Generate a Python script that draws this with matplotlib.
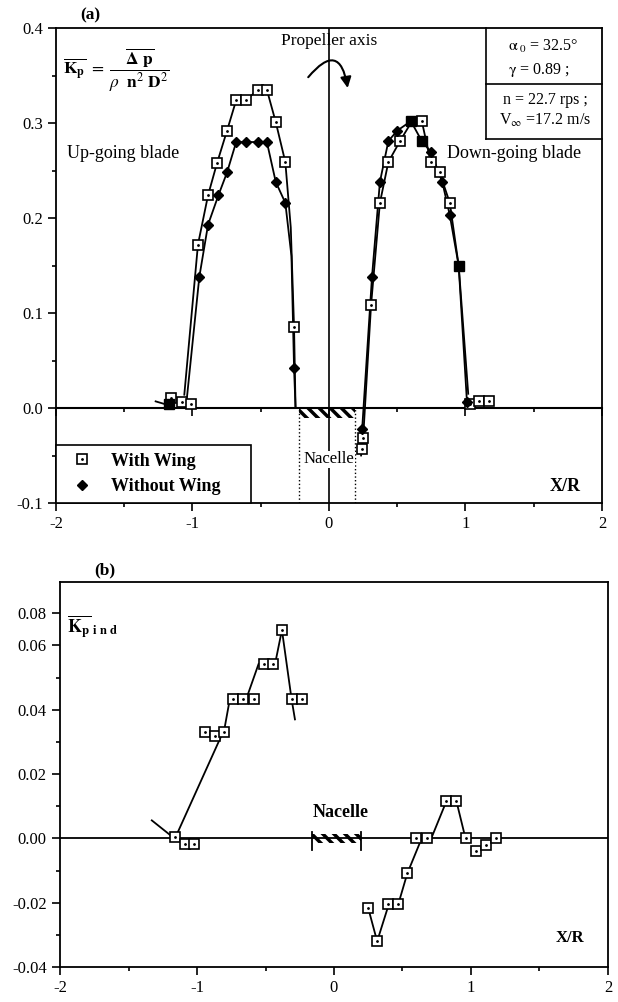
import numpy as np
import matplotlib.pyplot as plt
from matplotlib.lines import Line2D
from matplotlib.patches import Rectangle, FancyArrowPatch
from matplotlib.ticker import MultipleLocator

plt.rcParams['font.family'] = ['Liberation Serif', 'DejaVu Serif']
plt.rcParams['mathtext.fontset'] = 'stix'
plt.rcParams['hatch.linewidth'] = 2.5
plt.rcParams['axes.unicode_minus'] = False

# ---- (a) Kp, points ----
wing_x = [-1.157, -1.08, -1.01, -0.96, -0.886, -0.82, -0.747, -0.68, -0.61, -0.52, -0.455,
          -0.39, -0.32, -0.256, 0.243, 0.25, 0.308, 0.373, 0.435, 0.52, 0.68, 0.745, 0.81,
          0.885, 1.03, 1.10, 1.17]
wing_y = [0.0105, 0.0063, 0.0045, 0.172, 0.224, 0.258, 0.292, 0.324, 0.324, 0.335, 0.335,
          0.301, 0.259, 0.085, -0.043, -0.032, 0.108, 0.216, 0.259, 0.281, 0.302, 0.259, 0.248,
          0.216, 0.004, 0.0074, 0.0074]

nowing_x = [-0.95, -0.886, -0.81, -0.747, -0.68, -0.61, -0.52, -0.455, -0.39, -0.32, -0.256,
            0.243, 0.315, 0.373, 0.435, 0.50, 0.745, 0.83, 0.885, 1.01]
nowing_y = [0.138, 0.193, 0.224, 0.248, 0.28, 0.28, 0.28, 0.28, 0.238, 0.216, 0.042,
            -0.022, 0.138, 0.238, 0.281, 0.292, 0.27, 0.238, 0.203, 0.006]
# without-wing points printed as filled squares
nowing_sq_x = [-1.17, 0.60, 0.68, 0.95]
nowing_sq_y = [0.004, 0.302, 0.281, 0.15]

# faired curves
cw_left_x = [-1.06, -0.96, -0.886, -0.82, -0.747, -0.68, -0.61, -0.52, -0.455, -0.39, -0.32, -0.28, -0.256, -0.245]
cw_left_y = [0.014, 0.172, 0.224, 0.258, 0.292, 0.324, 0.324, 0.335, 0.335, 0.301, 0.259, 0.19, 0.085, 0.0]
cn_left_x = [-1.04, -0.95, -0.886, -0.81, -0.747, -0.68, -0.61, -0.52, -0.455, -0.39, -0.32, -0.275, -0.256, -0.245]
cn_left_y = [0.012, 0.138, 0.193, 0.224, 0.248, 0.28, 0.28, 0.28, 0.28, 0.238, 0.216, 0.16, 0.042, 0.0]
cw_right_x = [0.235, 0.25, 0.308, 0.373, 0.435, 0.52, 0.60, 0.68, 0.745, 0.81, 0.885, 0.95, 1.02]
cw_right_y = [-0.05, -0.032, 0.108, 0.216, 0.259, 0.281, 0.30, 0.302, 0.259, 0.248, 0.216, 0.15, 0.015]
cn_right_x = [0.235, 0.243, 0.315, 0.373, 0.435, 0.50, 0.60, 0.68, 0.745, 0.83, 0.885, 0.95, 1.01]
cn_right_y = [-0.03, -0.022, 0.138, 0.238, 0.281, 0.292, 0.302, 0.281, 0.27, 0.238, 0.203, 0.15, 0.008]
dash_a_x = [-1.27, -1.20]
dash_a_y = [0.007, 0.004]

# ---- (b) Kp induced ----
ind_x = [-1.16, -1.09, -1.02, -0.94, -0.872, -0.806, -0.74, -0.667, -0.586, -0.513, -0.447,
         -0.38, -0.307, -0.234, 0.25, 0.315, 0.396, 0.469, 0.535, 0.6, 0.68, 0.82, 0.894,
         0.96, 1.04, 1.11, 1.18]
ind_y = [0.0003, -0.0019, -0.0019, 0.0332, 0.0319, 0.0332, 0.0434, 0.0434, 0.0434, 0.0543, 0.0543,
         0.0648, 0.0434, 0.0434, -0.0217, -0.032, -0.0205, -0.0205, -0.0109, 0.0, 0.0, 0.0115, 0.0115,
         0.0, -0.004, -0.0022, 0.0]
cb_left_x = [-1.15, -0.80, -0.76, -0.64, -0.55, -0.43, -0.38, -0.31, -0.285]
cb_left_y = [0.001, 0.034, 0.0434, 0.0434, 0.0543, 0.0543, 0.0648, 0.0434, 0.037]
cb_right_x = [0.25, 0.315, 0.40, 0.469, 0.535, 0.64, 0.71, 0.82, 0.894, 0.96]
cb_right_y = [-0.0217, -0.032, -0.0205, -0.0205, -0.0109, 0.0, 0.0, 0.0115, 0.0115, 0.0]
dash_b_x = [-1.33, -1.18]
dash_b_y = [0.0056, 0.0005]

yticks_a = [-0.1, 0.0, 0.1, 0.2, 0.3, 0.4]
yticks_b = [-0.04, -0.02, 0.0, 0.02, 0.04, 0.06, 0.07]
yticklabels_b = ['-0.04', '-0.02', '0.00', '0.02', '0.04', '0.06', '0.08']
xticks = [-2, -1, 0, 1, 2]

fig = plt.figure(figsize=(6.18, 10.02), dpi=100)
ax1 = fig.add_axes([0.0906, 0.498, 0.8835, 0.474])
ax2 = fig.add_axes([0.0971, 0.0349, 0.8867, 0.3842])

sq_kw = dict(ls='none', marker='s', ms=6.5, mfc='white', mec='k', mew=1.2, zorder=5)
dot_kw = dict(ls='none', marker='.', ms=2, color='k', zorder=6)
dia_kw = dict(ls='none', marker='D', ms=5, color='k', zorder=5)
line_kw = dict(color='k', lw=1.3, zorder=3)


def style_axes(ax):
    for s in ax.spines.values():
        s.set_linewidth(1.3)
    ax.set_xlim(-2, 2)
    ax.set_xticks(xticks)
    ax.xaxis.set_minor_locator(MultipleLocator(0.5))
    ax.tick_params(which='both', direction='out', labelsize=12, width=1.2)
    ax.tick_params(which='major', length=6)
    ax.tick_params(which='minor', length=3)


# ---------------- panel (a) ----------------
ax = ax1
style_axes(ax)
ax.set_ylim(-0.1, 0.4)
ax.set_yticks(yticks_a)
ax.set_yticklabels(['%.1f' % v for v in yticks_a])
ax.yaxis.set_minor_locator(MultipleLocator(0.05))

# zero line with its own ticks
sec = ax.secondary_xaxis(0.2)
sec.set_xticks(xticks)
sec.xaxis.set_minor_locator(MultipleLocator(0.5))
sec.tick_params(which='both', direction='out', labelbottom=False, width=1.2)
sec.tick_params(which='major', length=6)
sec.tick_params(which='minor', length=3)
sec.spines['bottom'].set_linewidth(1.5)

ax.axvline(0, color='k', lw=1.2, zorder=2)
ax.plot([-0.22, -0.22], [-0.1, 0.0], color='k', lw=1.0, ls=':')
ax.plot([0.19, 0.19], [-0.1, 0.0], color='k', lw=1.0, ls=':')
ax.add_patch(Rectangle((-0.22, -0.011), 0.41, 0.011, facecolor='none', edgecolor='k',
                       lw=0, hatch='\\\\\\', zorder=2))
ax.text(0.0, -0.054, 'Nacelle', ha='center', va='center', fontsize=12,
        bbox=dict(facecolor='white', edgecolor='none', pad=0.5))

for cx, cy in [(cw_left_x, cw_left_y), (cn_left_x, cn_left_y),
               (cw_right_x, cw_right_y), (cn_right_x, cn_right_y), (dash_a_x, dash_a_y)]:
    ax.plot(cx, cy, **line_kw)
ax.plot(wing_x, wing_y, **sq_kw)
ax.plot(wing_x, wing_y, **dot_kw)
ax.plot(nowing_x, nowing_y, **dia_kw)
ax.plot(nowing_sq_x, nowing_sq_y, ls='none', marker='s', ms=6.5, color='k', zorder=5)

ax.text(0.0, 0.386, 'Propeller axis', ha='center', va='center', fontsize=12.5)
ax.add_patch(FancyArrowPatch((-0.165, 0.346), (0.14, 0.334), connectionstyle='arc3,rad=-1.15',
                             arrowstyle='-|>', mutation_scale=16, lw=1.5, color='k', zorder=4))
ax.text(-1.92, 0.268, 'Up-going blade', ha='left', va='center', fontsize=13)
ax.text(0.865, 0.268, 'Down-going blade', ha='left', va='center', fontsize=13)
ax.text(1.62, -0.083, 'X/R', ha='left', va='center', fontsize=13, fontweight='bold')

ax.text(0.012, 0.912,
        r'$\overline{\mathbf{K_p}}\ =\ \dfrac{\overline{\mathbf{\Delta\ p}}}{\rho\ \ \mathbf{n}^{2}\ \mathbf{D}^{2}}$',
        transform=ax.transAxes, ha='left', va='center', fontsize=12.5)

# parameter box
bx = 0.7875
ax.plot([bx, bx], [0.766, 1.0], transform=ax.transAxes, color='k', lw=1.2, clip_on=False)
ax.plot([bx, 1.0], [0.882, 0.882], transform=ax.transAxes, color='k', lw=1.2, clip_on=False)
ax.plot([bx, 1.0], [0.766, 0.766], transform=ax.transAxes, color='k', lw=1.2, clip_on=False)
ax.text(0.892, 0.962, r'$\mathrm{\alpha}_{\ 0}$ = 32.5°', transform=ax.transAxes, ha='center', va='center', fontsize=11.5)
ax.text(0.885, 0.912, r'$\mathrm{\gamma}$ = 0.89 ;', transform=ax.transAxes, ha='center', va='center', fontsize=11.5)
ax.text(0.896, 0.848, 'n = 22.7 rps ;', transform=ax.transAxes, ha='center', va='center', fontsize=11.5)
ax.text(0.896, 0.806, r'V$_{\infty}$ =17.2 m/s', transform=ax.transAxes, ha='center', va='center', fontsize=11.5)

h_sq = (Line2D([], [], ls='none', marker='s', ms=6.5, mfc='white', mec='k', mew=1.2),
        Line2D([], [], ls='none', marker='.', ms=2, color='k'))
h_dia = Line2D([], [], ls='none', marker='D', ms=5, color='k')
leg = ax.legend([h_sq, h_dia], ['With Wing', 'Without Wing'], loc='lower left',
                bbox_to_anchor=(0.0, 0.0, 0.358, 0.155), mode='expand', borderaxespad=0,
                prop=dict(family='Liberation Serif', weight='bold', size=13),
                fancybox=False, framealpha=1, edgecolor='k', handletextpad=0.6,
                labelspacing=0.45, borderpad=0.45)
leg.get_frame().set_linewidth(1.2)

fig.text(0.146, 0.985, '(a)', ha='center', va='center', fontsize=12.5, fontweight='bold')

# ---------------- panel (b) ----------------
ax = ax2
style_axes(ax)
ax.set_ylim(-0.04, 0.0797)
ax.set_yticks(yticks_b)
ax.set_yticklabels(yticklabels_b)
ax.yaxis.set_minor_locator(MultipleLocator(0.01))

ax.axhline(0, color='k', lw=1.3, zorder=2)
ax.add_patch(Rectangle((-0.16, -0.0015), 0.36, 0.003, facecolor='none', edgecolor='k',
                       lw=0, hatch='\\\\\\', zorder=2))
ax.plot([-0.16, -0.16], [-0.0035, 0.002], color='k', lw=1.3)
ax.plot([0.20, 0.20], [-0.0035, 0.002], color='k', lw=1.3)
ax.text(0.05, 0.0082, 'Nacelle', ha='center', va='center', fontsize=13, fontweight='bold')

for cx, cy in [(cb_left_x, cb_left_y), (cb_right_x, cb_right_y), (dash_b_x, dash_b_y)]:
    ax.plot(cx, cy, **line_kw)
ax.plot(ind_x, ind_y, **sq_kw)
ax.plot(ind_x, ind_y, **dot_kw)

ax.text(1.72, -0.031, 'X/R', ha='center', va='center', fontsize=12, fontweight='bold')
ax.text(0.012, 0.885, r'$\overline{\mathbf{K_p}}_{\ \mathbf{i\ n\ d}}$', transform=ax.transAxes,
        ha='left', va='center', fontsize=13)
fig.text(0.17, 0.431, '(b)', ha='center', va='center', fontsize=12.5, fontweight='bold')

fig.savefig('out.png', dpi=100)
